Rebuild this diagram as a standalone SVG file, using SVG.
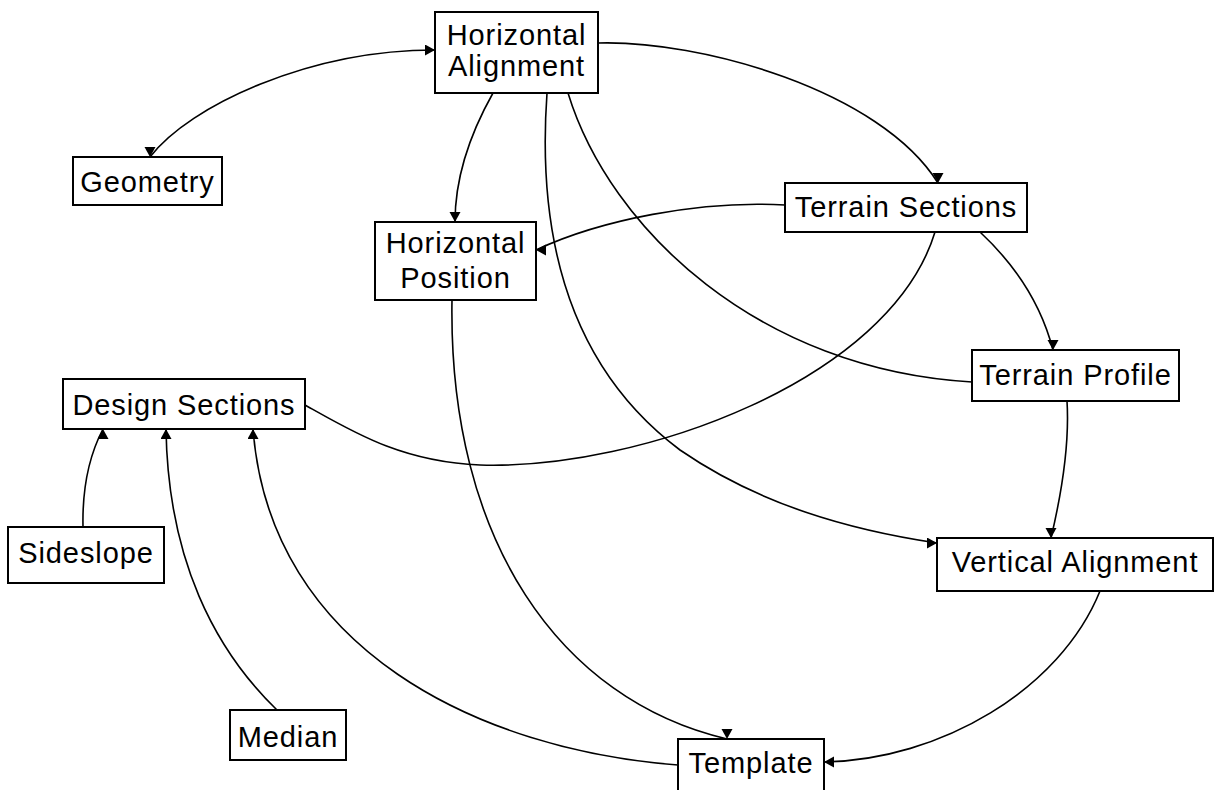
<svg xmlns="http://www.w3.org/2000/svg" width="1215" height="790" viewBox="0 0 1215 790">
<style>
.box{fill:#fff;stroke:#000;stroke-width:2}
.lbl{font-family:"Liberation Sans",Arial,sans-serif;font-size:29px;letter-spacing:0.9px;fill:#000;text-anchor:middle}
.edge{fill:none;stroke:#000;stroke-width:1.6}
</style>
<defs>
<marker id="aR" markerUnits="userSpaceOnUse" markerWidth="12" markerHeight="12" refX="10" refY="5.5" orient="0"><path d="M0,0 L10,5.5 L0,11 z" fill="#000"/></marker>
<marker id="aD" markerUnits="userSpaceOnUse" markerWidth="12" markerHeight="12" refX="10" refY="5.5" orient="90"><path d="M0,0 L10,5.5 L0,11 z" fill="#000"/></marker>
<marker id="aL" markerUnits="userSpaceOnUse" markerWidth="12" markerHeight="12" refX="10" refY="5.5" orient="180"><path d="M0,0 L10,5.5 L0,11 z" fill="#000"/></marker>
<marker id="aU" markerUnits="userSpaceOnUse" markerWidth="12" markerHeight="12" refX="10" refY="5.5" orient="270"><path d="M0,0 L10,5.5 L0,11 z" fill="#000"/></marker>
</defs>
<rect width="1215" height="790" fill="#fff"/>
<g id="connectors">
<path class="edge" d="M150,157 C190,105 310,50 435,50" marker-start="url(#aD)" marker-end="url(#aR)"/>
<path class="edge" d="M493,93 C475,125 455,170 455,222" marker-end="url(#aD)"/>
<path class="edge" d="M598,43 C700,40 880,90 938,183" marker-end="url(#aD)"/>
<path class="edge" d="M547,93 C538,220 560,360 680,450 C760,505 850,530 937,543" marker-end="url(#aR)"/>
<path class="edge" d="M568,93 C610,230 760,370 972,382"/>
<path class="edge" d="M785,205 C700,200 600,220 536,250" marker-end="url(#aL)"/>
<path class="edge" d="M935,232 C890,380 640,470 480,465 C400,462 350,430 305,405"/>
<path class="edge" d="M980,232 C1010,260 1040,300 1053,350" marker-end="url(#aD)"/>
<path class="edge" d="M1067,401 C1070,450 1060,500 1051,538" marker-end="url(#aD)"/>
<path class="edge" d="M1100,591 C1060,690 940,760 824,762" marker-end="url(#aL)"/>
<path class="edge" d="M452,300 C448,540 560,700 727,739" marker-end="url(#aD)"/>
<path class="edge" d="M678,765 C480,750 270,650 253,429" marker-end="url(#aU)"/>
<path class="edge" d="M277,710 C215,650 168,560 166,429" marker-end="url(#aU)"/>
<path class="edge" d="M83,527 C82,480 92,450 103,429" marker-end="url(#aU)"/>
</g>
<g id="horizontal-alignment"><rect class="box" x="435" y="12" width="163" height="81"/><text class="lbl" x="516.5" y="45">Horizontal</text><text class="lbl" x="516.5" y="76">Alignment</text></g>
<g id="geometry"><rect class="box" x="73" y="157" width="149" height="48"/><text class="lbl" x="147.5" y="192">Geometry</text></g>
<g id="horizontal-position"><rect class="box" x="375" y="222" width="161" height="78"/><text class="lbl" x="455.5" y="253">Horizontal</text><text class="lbl" x="455.5" y="288">Position</text></g>
<g id="terrain-sections"><rect class="box" x="785" y="183" width="242" height="49"/><text class="lbl" x="906" y="217">Terrain Sections</text></g>
<g id="terrain-profile"><rect class="box" x="972" y="350" width="207" height="51"/><text class="lbl" x="1075.5" y="385">Terrain Profile</text></g>
<g id="design-sections"><rect class="box" x="63" y="379" width="242" height="50"/><text class="lbl" x="184" y="415">Design Sections</text></g>
<g id="sideslope"><rect class="box" x="8" y="527" width="156" height="56"/><text class="lbl" x="86" y="563">Sideslope</text></g>
<g id="vertical-alignment"><rect class="box" x="937" y="538" width="276" height="53"/><text class="lbl" x="1075" y="572">Vertical Alignment</text></g>
<g id="median"><rect class="box" x="230" y="710" width="116" height="50"/><text class="lbl" x="288" y="747">Median</text></g>
<g id="template"><rect class="box" x="678" y="739" width="146" height="60"/><text class="lbl" x="751" y="773">Template</text></g>
</svg>
